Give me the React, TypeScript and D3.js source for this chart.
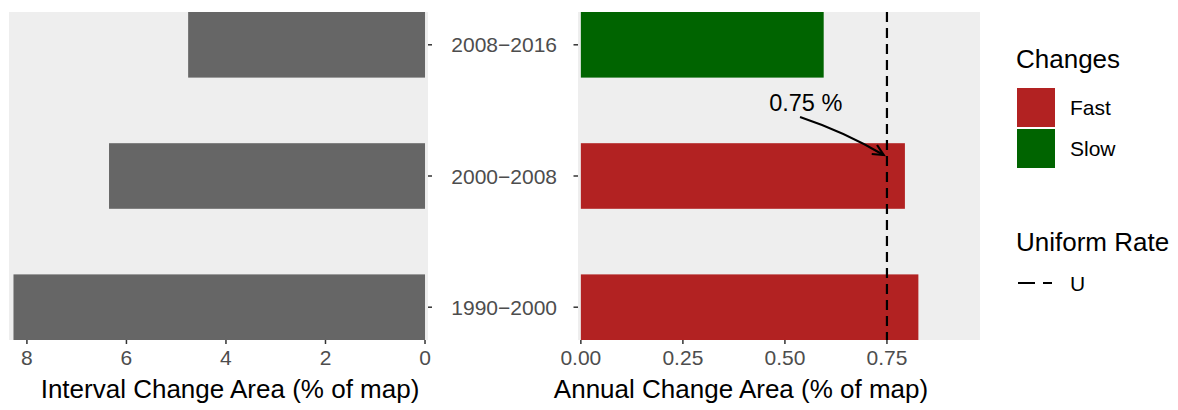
import React from 'react';
import * as d3 from 'd3';

const periods = ["2008−2016", "2000−2008", "1990−2000"];
const intervalChange = [4.76, 6.35, 8.27];
const annualChange = [0.595, 0.794, 0.827];
const changeClass = ["Slow", "Fast", "Fast"];
const leftTicks = [0, 2, 4, 6, 8];
const rightTicks = [0, 0.25, 0.5, 0.75];
const uniformRate = 0.75;
const legendClasses = ["Fast", "Slow"];
const legendLineLabels = ["U"];
const annotationText = "0.75 %";

const COLORS: Record<string, string> = { Fast: "#b22222", Slow: "#006400" };
const FONT = "'Liberation Sans', Arial, Helvetica, sans-serif";
const W = 1178, H = 410;
const PANEL_BG = "#eeeeee";

export default function App() {
  const top = 12, bottom = 340;
  const step = (bottom - top) / 2.5;
  const y = d3.scalePoint<string>().domain(periods).range([top + step * 0.25, bottom - step * 0.25]);
  const yIdx = d3.scaleLinear().domain([0, periods.length - 1]).range([top + step * 0.25, bottom - step * 0.25]);
  const barH = step * 0.5;

  const xL = d3.scaleLinear().domain([8.36, -0.06]).range([9, 428]);
  const xR = d3.scaleLinear().domain([-0.007, 0.978]).range([578, 980]);

  const tickColor = "#333333";
  const labColor = "#4d4d4d";

  // annotation (data coords)
  const aStart: [number, number] = [xR(0.537), yIdx(0.55)];
  const aEnd: [number, number] = [xR(0.742), yIdx(0.84)];
  const mid: [number, number] = [(aStart[0] + aEnd[0]) / 2 + 3, (aStart[1] + aEnd[1]) / 2 - 4];
  const p = d3.path();
  p.moveTo(aStart[0], aStart[1]);
  p.quadraticCurveTo(mid[0], mid[1], aEnd[0], aEnd[1]);
  const ang = Math.atan2(aEnd[1] - mid[1], aEnd[0] - mid[0]);
  const ah = 12;
  const head = d3.path();
  head.moveTo(aEnd[0] - ah * Math.cos(ang - 0.45), aEnd[1] - ah * Math.sin(ang - 0.45));
  head.lineTo(aEnd[0], aEnd[1]);
  head.lineTo(aEnd[0] - ah * Math.cos(ang + 0.45), aEnd[1] - ah * Math.sin(ang + 0.45));

  return (
    <svg width={W} height={H} style={{ position: 'absolute', left: 0, top: 0, background: '#fff' }} fontFamily={FONT}>
      {/* Left panel */}
      <rect x={xL.range()[0]} y={top} width={xL.range()[1] - xL.range()[0]} height={bottom - top} fill={PANEL_BG} />
      {periods.map((d, i) => (
        <rect key={'l' + d} x={xL(intervalChange[i])} y={y(d)! - barH / 2} width={xL(0) - xL(intervalChange[i])} height={barH} fill="#666666" />
      ))}
      {leftTicks.map(t => (
        <g key={'lt' + t}>
          <line x1={xL(t)} x2={xL(t)} y1={bottom} y2={bottom + 4} stroke={tickColor} strokeWidth={1.5} />
          <text x={xL(t)} y={365} textAnchor="middle" fontSize={21} fill={labColor}>{t}</text>
        </g>
      ))}
      {periods.map(d => (
        <line key={'lyt' + d} x1={428} x2={432} y1={y(d)} y2={y(d)} stroke={tickColor} strokeWidth={1.5} />
      ))}
      <text x={230} y={398} textAnchor="middle" fontSize={26} fill="#000">Interval Change Area (% of map)</text>

      {/* Right panel */}
      <rect x={xR.range()[0]} y={top} width={xR.range()[1] - xR.range()[0]} height={bottom - top} fill={PANEL_BG} />
      {periods.map((d, i) => (
        <rect key={'r' + d} x={xR(0)} y={y(d)! - barH / 2} width={xR(annualChange[i]) - xR(0)} height={barH} fill={COLORS[changeClass[i]]} />
      ))}
      <line x1={xR(uniformRate)} x2={xR(uniformRate)} y1={top} y2={bottom} stroke="#000" strokeWidth={2.2} strokeDasharray="10,6" />
      {rightTicks.map(t => (
        <g key={'rt' + t}>
          <line x1={xR(t)} x2={xR(t)} y1={bottom} y2={bottom + 4} stroke={tickColor} strokeWidth={1.5} />
          <text x={xR(t)} y={365} textAnchor="middle" fontSize={21} fill={labColor}>{d3.format(".2f")(t)}</text>
        </g>
      ))}
      {periods.map(d => (
        <g key={'ryt' + d}>
          <line x1={573.5} x2={578} y1={y(d)} y2={y(d)} stroke={tickColor} strokeWidth={1.5} />
          <text x={557} y={y(d)} dy="0.36em" textAnchor="end" fontSize={21} fill={labColor}>{d}</text>
        </g>
      ))}
      <text x={741} y={398} textAnchor="middle" fontSize={26} fill="#000">Annual Change Area (% of map)</text>

      {/* Annotation */}
      <text x={xR(0.551)} y={yIdx(0.44)} dy="0.36em" textAnchor="middle" fontSize={23.5} fill="#000">{annotationText}</text>
      <path d={p.toString()} fill="none" stroke="#000" strokeWidth={2.2} />
      <path d={head.toString()} fill="none" stroke="#000" strokeWidth={2.2} />

      {/* Legend */}
      <text x={1016} y={68} fontSize={26} fill="#000">Changes</text>
      {legendClasses.map((c, i) => (
        <g key={'lg' + c}>
          <rect x={1017} y={88 + i * 41} width={38} height={39} fill={COLORS[c]} />
          <text x={1070} y={107.5 + i * 41} dy="0.36em" fontSize={21} fill="#000">{c}</text>
        </g>
      ))}
      <text x={1016} y={251} fontSize={26} fill="#000">Uniform Rate</text>
      {legendLineLabels.map((l, i) => (
        <g key={'ll' + l}>
          <line x1={1018} x2={1052} y1={283 + i * 40} y2={283 + i * 40} stroke="#000" strokeWidth={2.2} strokeDasharray="17,8" />
          <text x={1070} y={283 + i * 40} dy="0.36em" fontSize={21} fill="#000">{l}</text>
        </g>
      ))}
    </svg>
  );
}
